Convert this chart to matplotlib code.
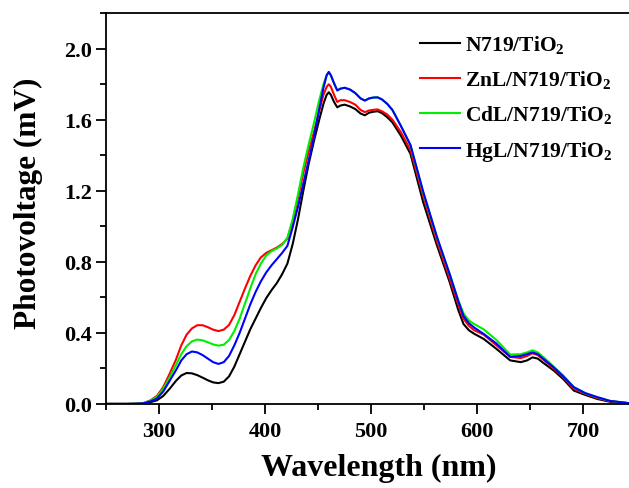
import matplotlib
matplotlib.use("Agg")
import matplotlib.pyplot as plt
from matplotlib.ticker import MultipleLocator

plt.rcParams['font.family'] = ['Liberation Serif', 'DejaVu Serif']
plt.rcParams['font.weight'] = 'bold'
plt.rcParams['mathtext.fontset'] = 'custom'
plt.rcParams['mathtext.rm'] = 'Liberation Serif:bold'
plt.rcParams['mathtext.bf'] = 'Liberation Serif:bold'

# wavelength grid (nm)
wavelength = [250, 270, 280, 286, 292, 298, 304, 310, 316, 321,
              326, 331, 336, 341, 346, 351, 356, 361, 366, 371,
              376, 381, 386, 391, 396, 401, 406, 411, 416, 421,
              426, 431, 436, 441, 446, 451, 455, 458, 460, 462,
              465, 468, 471, 475, 480, 485, 490, 494, 498, 502,
              506, 510, 515, 520, 528, 537, 549, 562, 574, 582,
              587, 592, 597, 606, 618, 631, 641, 647, 652, 657,
              662, 672, 681, 691, 702, 713, 725, 743]

n719 = [0, 0, 0.001, 0.004, 0.01, 0.02, 0.045, 0.085, 0.13, 0.16,
        0.174, 0.172, 0.162, 0.148, 0.133, 0.121, 0.117, 0.125, 0.155, 0.21,
        0.28, 0.35, 0.42, 0.48, 0.54, 0.595, 0.64, 0.68, 0.73, 0.79,
        0.90, 1.04, 1.20, 1.35, 1.48, 1.60, 1.69, 1.74, 1.755, 1.74,
        1.70, 1.67, 1.68, 1.685, 1.675, 1.66, 1.635, 1.625, 1.64, 1.645,
        1.648, 1.638, 1.615, 1.585, 1.51, 1.408, 1.136, 0.892, 0.685, 0.53,
        0.45, 0.415, 0.395, 0.366, 0.31, 0.245, 0.235, 0.245, 0.262, 0.255,
        0.232, 0.188, 0.14, 0.075, 0.05, 0.028, 0.012, 0.003]

znl = [0, 0, 0.002, 0.006, 0.02, 0.045, 0.095, 0.17, 0.25, 0.33,
       0.39, 0.425, 0.443, 0.443, 0.432, 0.418, 0.41, 0.418, 0.445, 0.50,
       0.575, 0.65, 0.72, 0.78, 0.825, 0.85, 0.865, 0.88, 0.90, 0.93,
       1.03, 1.16, 1.30, 1.42, 1.53, 1.65, 1.74, 1.785, 1.80, 1.785,
       1.74, 1.70, 1.71, 1.71, 1.70, 1.685, 1.655, 1.643, 1.652, 1.656,
       1.658, 1.648, 1.63, 1.60, 1.53, 1.43, 1.17, 0.915, 0.705, 0.56,
       0.48, 0.44, 0.415, 0.39, 0.33, 0.265, 0.258, 0.27, 0.285, 0.275,
       0.25, 0.20, 0.15, 0.085, 0.057, 0.033, 0.015, 0.004]

cdl = [0, 0, 0.002, 0.005, 0.018, 0.04, 0.085, 0.15, 0.22, 0.28,
       0.325, 0.352, 0.362, 0.358, 0.347, 0.335, 0.328, 0.333, 0.36, 0.41,
       0.48, 0.565, 0.65, 0.73, 0.79, 0.835, 0.86, 0.875, 0.895, 0.935,
       1.04, 1.18, 1.33, 1.46, 1.58, 1.71, 1.80, 1.85, 1.869, 1.85,
       1.805, 1.765, 1.775, 1.78, 1.77, 1.75, 1.72, 1.708, 1.72, 1.725,
       1.726, 1.715, 1.69, 1.655, 1.565, 1.455, 1.19, 0.935, 0.73, 0.585,
       0.51, 0.47, 0.45, 0.42, 0.36, 0.278, 0.28, 0.29, 0.302, 0.29,
       0.265, 0.21, 0.16, 0.094, 0.06, 0.038, 0.017, 0.004]

hgl = [0, 0, 0.001, 0.004, 0.014, 0.03, 0.07, 0.13, 0.19, 0.245,
       0.28, 0.295, 0.29, 0.275, 0.255, 0.235, 0.225, 0.235, 0.27, 0.33,
       0.40, 0.48, 0.56, 0.63, 0.69, 0.74, 0.78, 0.815, 0.85, 0.89,
       0.995, 1.11, 1.24, 1.37, 1.50, 1.66, 1.78, 1.85, 1.869, 1.85,
       1.805, 1.765, 1.775, 1.78, 1.77, 1.75, 1.72, 1.708, 1.72, 1.725,
       1.726, 1.715, 1.69, 1.655, 1.565, 1.458, 1.195, 0.94, 0.73, 0.58,
       0.495, 0.455, 0.43, 0.394, 0.34, 0.265, 0.27, 0.28, 0.29, 0.28,
       0.255, 0.206, 0.155, 0.094, 0.06, 0.038, 0.017, 0.004]

labels = [r'N719/TiO$_2$', r'ZnL/N719/TiO$_2$', r'CdL/N719/TiO$_2$', r'HgL/N719/TiO$_2$']
colors = ['black', '#ff0000', '#00ee00', '#0000ff']

fig = plt.figure(figsize=(6.29, 4.89), dpi=100)
ax = fig.add_axes([0.1685, 0.172, 0.8315, 0.799])

for series, label, color in zip([n719, znl, cdl, hgl], labels, colors):
    ax.plot(wavelength, series, color=color, linewidth=1.5, label=label)

ax.set_xlim(250, 743)
ax.set_ylim(0, 2.2)
ax.xaxis.set_major_locator(MultipleLocator(100))
ax.xaxis.set_minor_locator(MultipleLocator(50))
ax.yaxis.set_major_locator(MultipleLocator(0.4))
ax.yaxis.set_minor_locator(MultipleLocator(0.2))
ax.yaxis.set_major_formatter(plt.FormatStrFormatter('%.1f'))

ax.tick_params(axis='both', which='major', direction='out', length=7, width=1.3, labelsize=16, top=False, right=False)
ax.tick_params(axis='both', which='minor', direction='out', length=4, width=1.3, top=False, right=False)
ax.tick_params(axis='x', which='major', pad=5)
ax.tick_params(axis='y', which='major', pad=3)

for side in ['left', 'bottom', 'top']:
    ax.spines[side].set_linewidth(1.3)
ax.spines['right'].set_visible(False)

ax.set_xlabel('Wavelength (nm)', fontsize=23, fontweight='bold')
ax.set_ylabel('Photovoltage (mV)', fontsize=22.5, fontweight='bold')
ax.xaxis.set_label_coords(0.522, -0.125)
ax.yaxis.set_label_coords(-0.121, 0.517)

ax.legend(loc='upper left', bbox_to_anchor=(0.600, 0.947), frameon=False, fontsize=15.5,
          handlelength=1.86, handletextpad=0.23, labelspacing=0.575, borderpad=0.0,
          borderaxespad=0.0)

fig.savefig('out.png', dpi=100)
